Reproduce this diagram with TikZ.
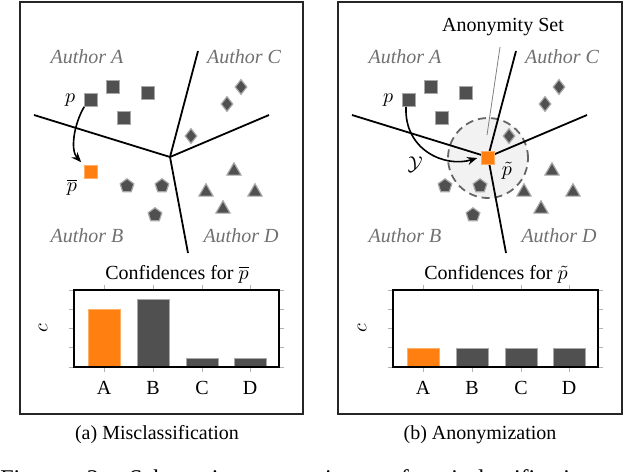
\documentclass[tikz,border=0pt]{standalone}
\usepackage{fontspec}
\setmainfont{Liberation Serif}
\usetikzlibrary{positioning,shapes.geometric,arrows.meta}
\definecolor{markfill}{HTML}{505050}
\definecolor{markedge}{HTML}{A8A8A8}
\definecolor{hlorange}{HTML}{FF8010}
\definecolor{hledge}{HTML}{FFB064}
\definecolor{authorgray}{HTML}{707070}
\tikzset{
  panel/.style={draw=black!85, line width=0.6pt},
  border/.style={black, line width=0.9pt},
  authorlbl/.style={text=authorgray, font=\itshape},
  sqmark/.style={rectangle, draw=markedge, fill=markfill, line width=0.6pt, minimum size=6.2pt, inner sep=0pt},
  hlmark/.style={rectangle, draw=hledge, fill=hlorange, line width=0.6pt, minimum size=6.2pt, inner sep=0pt},
  dmmark/.style={diamond, draw=markedge, fill=markfill, line width=0.6pt, minimum width=6pt, minimum height=7.6pt, inner sep=0pt},
  trmark/.style={regular polygon, regular polygon sides=3, draw=markedge, fill=markfill, line width=0.6pt, minimum size=8.2pt, inner sep=0pt},
  pgmark/.style={regular polygon, regular polygon sides=5, draw=markedge, fill=markfill, line width=0.6pt, minimum size=7.2pt, inner sep=0pt},
  move/.style={black, line width=0.8pt, -{Stealth[length=5pt,width=4pt]}},
  pointer/.style={gray, line width=0.4pt},
  anonzone/.style={circle, draw=black!60, fill=black!5, dash pattern=on 4pt off 2.5pt, line width=0.9pt, minimum size=40pt, inner sep=0pt},
  barframe/.style={black, line width=0.6pt},
  tick/.style={black!30, line width=0.4pt},
  darkbar/.style={draw=markedge, fill=markfill, line width=0.5pt},
  hlbar/.style={draw=hledge, fill=hlorange, line width=0.5pt}
}
\begin{document}
\begin{tikzpicture}[x=0.5pt,y=-0.5pt]
\useasboundingbox (0,0) rectangle (640,471);
% frames
\draw[panel] (20,2) rectangle (303,414);
\draw[panel] (338,2) rectangle (622,414);

%%%% (a) misclassification
\coordinate (vcA) at (170,157);
\coordinate (vaA) at (34,115);
\coordinate (vbA) at (198,51);
\coordinate (vdA) at (269,115);
\coordinate (veA) at (188,253);
\draw[border] (vaA) -- (vcA) -- (vbA);
\draw[border] (vcA) -- (vdA);
\draw[border] (vcA) -- (veA);
\node[authorlbl] (authAa) at (87,57) {Author A};
\node[authorlbl] (authCa) at (244,57) {Author C};
\node[authorlbl] (authBa) at (87,236) {Author B};
\node[authorlbl] (authDa) at (241,236) {Author D};
\node[sqmark] (pA) at (91,100) {};
\node[sqmark] (sqA2) at (113,87) {};
\node[sqmark] (sqA3) at (148,93) {};
\node[sqmark] (sqA4) at (124,118) {};
\node[dmmark] (dmA1) at (241,87) {};
\node[dmmark] (dmA2) at (227,104) {};
\node[dmmark] (dmA3) at (191,136) {};
\node[pgmark] (pgA1) at (127,186) {};
\node[pgmark] (pgA2) at (162,186) {};
\node[pgmark] (pgA3) at (155,215) {};
\node[trmark] (trA1) at (234,171) {};
\node[trmark] (trA2) at (206,192) {};
\node[trmark] (trA3) at (255,192) {};
\node[trmark] (trA4) at (223,209) {};
\node[hlmark] (pbarA) at (91,172) {};
\node[left=1pt of pA] (plblA) {$p$};
\node (pbarlbl) at (72,187) {$\overline{p}$};
\draw[move] (pA.south west) .. controls (74,124) and (70,150) .. ([shift={(-3,-3)}]pbarA.north west);

% bar chart (a)
\node (titleA) at (177,274) {Confidences for $\overline{p}$};
\foreach \y in {290,309.25,328.5,347.75,367} {
  \draw[tick] (69,\y) -- (74,\y);
  \draw[tick] (279,\y) -- (284,\y);
}
\foreach \x in {104,153,202,250} {
  \draw[tick] (\x,285) -- (\x,290);
  \draw[tick] (\x,367) -- (\x,372);
}
\draw[hlbar] (88,367) rectangle (120,309);
\foreach \x/\h in {153/299,202/358,250/358}
  \draw[darkbar] (\x-16,367) rectangle (\x+16,\h);
\draw[barframe] (74,290) rectangle (279,367);
\node[rotate=90] (cA) at (43,328) {$c$};
\node (xA1) at (104,388) {A};
\node (xA2) at (153,388) {B};
\node (xA3) at (202,388) {C};
\node (xA4) at (250,388) {D};
\node (capA) at (157,435) {(a)\ Misclassification};

%%%% (b) anonymization
\node[anonzone] (asetzone) at (488,158) {};
\coordinate (vcB) at (488,157);
\coordinate (vaB) at (352,115);
\coordinate (vbB) at (516,51);
\coordinate (vdB) at (587,115);
\coordinate (veB) at (506,253);
\draw[border] (vaB) -- (vcB) -- (vbB);
\draw[border] (vcB) -- (vdB);
\draw[border] (vcB) -- (veB);
\node (asetlbl) at (503,27) {Anonymity Set};
\coordinate (asethead) at (500,47);
\coordinate (asetfoot) at (487,135);
\draw[pointer] (asethead) -- (asetfoot);
\node[authorlbl] (authAb) at (405,57) {Author A};
\node[authorlbl] (authCb) at (562,57) {Author C};
\node[authorlbl] (authBb) at (405,236) {Author B};
\node[authorlbl] (authDb) at (559,236) {Author D};
\node[sqmark] (pB) at (409,100) {};
\node[sqmark] (sqB2) at (431,87) {};
\node[sqmark] (sqB3) at (466,93) {};
\node[sqmark] (sqB4) at (442,118) {};
\node[dmmark] (dmB1) at (559,87) {};
\node[dmmark] (dmB2) at (545,104) {};
\node[dmmark] (dmB3) at (509,136) {};
\node[pgmark] (pgB1) at (445,186) {};
\node[pgmark] (pgB2) at (480,186) {};
\node[pgmark] (pgB3) at (473,215) {};
\node[trmark] (trB1) at (552,171) {};
\node[trmark] (trB2) at (524,192) {};
\node[trmark] (trB3) at (573,192) {};
\node[trmark] (trB4) at (541,209) {};
\node[hlmark] (ptilde) at (488,158) {};
\node[left=1pt of pB] (plblB) {$p$};
\node (ptildelbl) at (507,171) {$\tilde{p}$};
\node (ylbl) at (415,165) {$\mathcal{Y}$};
\draw[move] ([xshift=-1.5pt]pB.south) .. controls (404,150) and (445,168) .. ([xshift=-2pt]ptilde.west);

% bar chart (b)
\node (titleB) at (496,274) {Confidences for $\tilde{p}$};
\foreach \y in {290,309.25,328.5,347.75,367} {
  \draw[tick] (388,\y) -- (393,\y);
  \draw[tick] (598,\y) -- (603,\y);
}
\foreach \x in {423,472,521,569} {
  \draw[tick] (\x,285) -- (\x,290);
  \draw[tick] (\x,367) -- (\x,372);
}
\draw[hlbar] (407,367) rectangle (439,348);
\foreach \x in {472,521,569}
  \draw[darkbar] (\x-16,367) rectangle (\x+16,348);
\draw[barframe] (393,290) rectangle (598,367);
\node[rotate=90] (cB) at (362,328) {$c$};
\node (xB1) at (423,388) {A};
\node (xB2) at (472,388) {B};
\node (xB3) at (521,388) {C};
\node (xB4) at (569,388) {D};
\node (capB) at (480,435) {(b)\ Anonymization};

% figure caption, cut by the page edge
\node[anchor=base west, inner sep=0pt, font=\large] (figcap) at (0,486)
  {\hbox to 326pt{Figure 2:\ Schematic comparison of misclassification and}};
\end{tikzpicture}
\end{document}
